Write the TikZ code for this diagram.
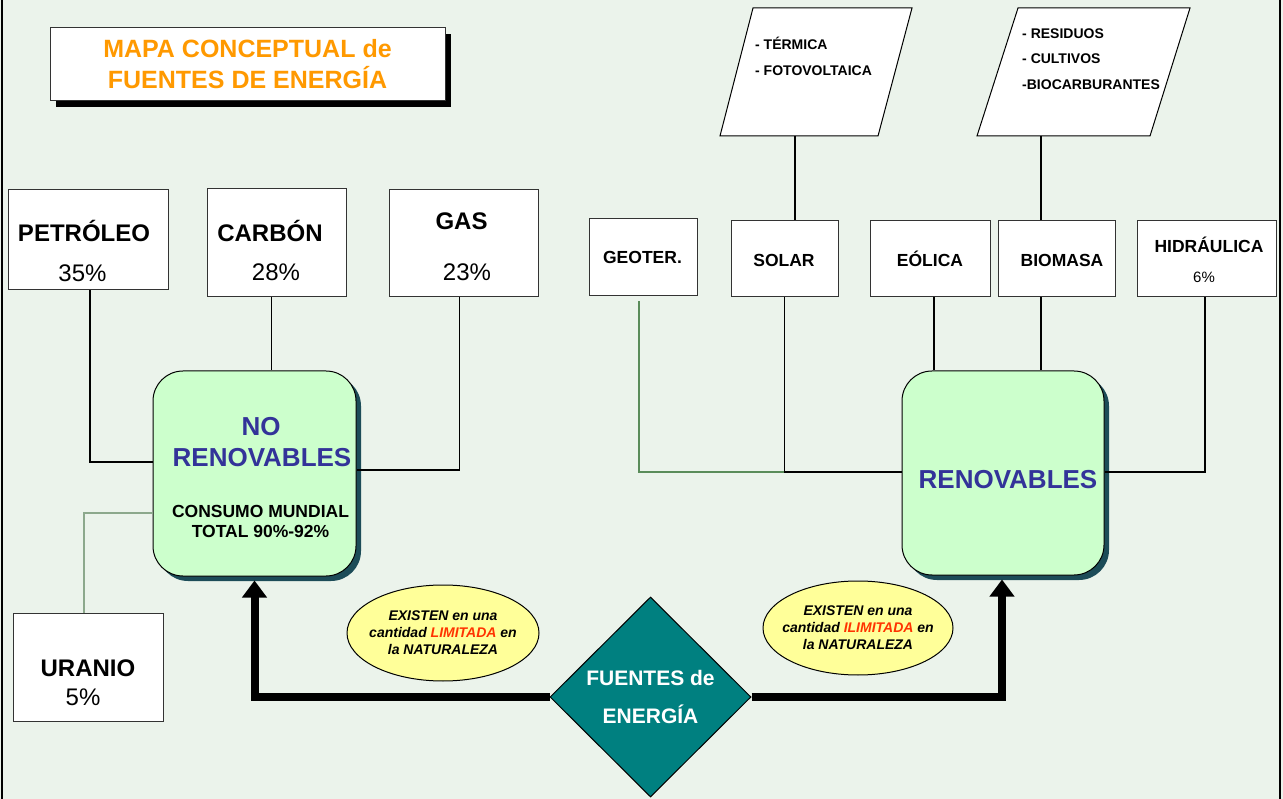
\documentclass[tikz,border=0pt]{standalone}
\usepackage{fontspec}
\setmainfont{Liberation Sans}
\usepackage{xcolor}
\usetikzlibrary{shapes.geometric,arrows.meta,shadows,positioning}

\definecolor{bgcol}{RGB}{235,243,235}
\definecolor{titleorange}{RGB}{255,153,0}
\definecolor{groupfill}{RGB}{204,255,204}
\definecolor{groupblue}{RGB}{51,51,153}
\definecolor{groupshadow}{RGB}{28,76,88}
\definecolor{diamondteal}{RGB}{0,128,128}
\definecolor{notefill}{RGB}{255,255,153}
\definecolor{notered}{RGB}{255,51,0}
\definecolor{paleline}{RGB}{140,168,140}
\definecolor{geoline}{RGB}{90,140,90}

\begin{document}
\begin{tikzpicture}[x=1pt,y=-1pt,
  srcbox/.style={draw=black!80, fill=white, line width=1pt, inner sep=0pt},
  bigname/.style={anchor=base, inner sep=0pt, font=\bfseries\fontsize{24}{28}\selectfont},
  bigpct/.style={anchor=base, inner sep=0pt, font=\fontsize{24}{28}\selectfont},
  smallname/.style={anchor=base, inner sep=0pt, font=\bfseries\fontsize{17.5}{20}\selectfont},
  partext/.style={anchor=base west, inner sep=0pt, font=\bfseries\fontsize{14}{16}\selectfont},
  groupbox/.style={draw=black, fill=groupfill, line width=1pt, rounded corners=30pt, inner sep=0pt,
    drop shadow={shadow xshift=5pt, shadow yshift=-5pt, fill=groupshadow, opacity=1}},
  grouptext/.style={anchor=base, inner sep=0pt, text=groupblue, font=\bfseries\fontsize{26}{30}\selectfont},
  note/.style={ellipse, draw=black, fill=notefill, line width=1pt, inner sep=0pt,
    minimum width=192pt, minimum height=96pt},
  notetext/.style={inner sep=0pt, align=center, font=\bfseries\itshape\fontsize{14}{17}\selectfont},
  link/.style={line width=1.2pt},
  bigarrow/.style={line width=8pt, line join=miter, -{Triangle[width=24pt,length=17pt]}}]
  \useasboundingbox (0,0) rectangle (1283,799);
  \fill[bgcol] (0,0) rectangle (1283,799);
  \draw[line width=2pt] (1.5,0) -- (1.5,799);
  \draw[line width=2pt] (1279.5,0) -- (1279.5,799);

  %Shape: Title
  \node[srcbox, minimum width=395pt, minimum height=73pt, align=center, text=titleorange,
    font=\bfseries\fontsize{25}{31}\selectfont,
    drop shadow={shadow xshift=6pt, shadow yshift=-6pt, fill=black, opacity=1}]
    (title) at (247.5,64.5) {MAPA CONCEPTUAL de\\FUENTES DE ENERGÍA};

  %Shape: Parallelograms
  \draw[fill=white, line width=1pt] (753,8) -- (912,8) -- (878,136) -- (720,136) -- cycle;
  \draw[fill=white, line width=1pt] (1018,8) -- (1190,8) -- (1150,136) -- (977,136) -- cycle;
  \coordinate (solarpar) at (795,136);
  \coordinate (biopar) at (1041,136);
  \node[partext] (termica) at (755,50) {- TÉRMICA};
  \node[partext] (fotovolt) at (755,76) {- FOTOVOLTAICA};
  \node[partext] (residuos) at (1022,39) {- RESIDUOS};
  \node[partext] (cultivos) at (1022,64) {- CULTIVOS};
  \node[partext] (biocarb) at (1022,90) {-BIOCARBURANTES};

  %Shape: Non renewable sources
  \node[srcbox, minimum width=160pt, minimum height=100pt] (petroleo) at (88,240) {};
  \node[srcbox, minimum width=139pt, minimum height=108pt] (carbon) at (276.5,243) {};
  \node[srcbox, minimum width=149pt, minimum height=107pt] (gas) at (463.5,243.5) {};
  \node[srcbox, minimum width=150pt, minimum height=108pt] (uranio) at (88,667) {};
  \node[bigname] (petroleo-n) at (84,242) {PETRÓLEO};
  \node[bigpct] (petroleo-p) at (82.5,282) {35\%};
  \node[bigname] (carbon-n) at (270,242) {CARBÓN};
  \node[bigpct] (carbon-p) at (276,281) {28\%};
  \node[bigname] (gas-n) at (461.5,230) {GAS};
  \node[bigpct] (gas-p) at (467,281) {23\%};
  \node[bigname] (uranio-n) at (88,676) {URANIO};
  \node[bigpct] (uranio-p) at (83,705) {5\%};

  %Shape: Renewable sources
  \node[srcbox, minimum width=108pt, minimum height=77pt] (geoter) at (643,257.5) {};
  \node[srcbox, minimum width=107pt, minimum height=76pt] (solar) at (784.5,259) {};
  \node[srcbox, minimum width=120pt, minimum height=76pt] (eolica) at (930,259) {};
  \node[srcbox, minimum width=117pt, minimum height=76pt] (biomasa) at (1056.5,259) {};
  \node[srcbox, minimum width=139pt, minimum height=76pt] (hidraulica) at (1206.5,259) {};
  \node[smallname] (geoter-n) at (642.5,264) {GEOTER.};
  \node[smallname] (solar-n) at (784,267) {SOLAR};
  \node[smallname] (eolica-n) at (930,267) {EÓLICA};
  \node[smallname] (biomasa-n) at (1062,267) {BIOMASA};
  \node[smallname] (hidraulica-n) at (1209,253) {HIDRÁULICA};
  \node[anchor=base, inner sep=0pt, font=\fontsize{15}{17}\selectfont] (hidraulica-p) at (1204,283) {6\%};

  %Shape: Groups
  \node[groupbox, minimum width=203pt, minimum height=205pt] (norenov) at (254.5,473.5) {};
  \node[groupbox, minimum width=202pt, minimum height=204pt] (renov) at (1003,473) {};
  \node[grouptext] (norenov-a) at (261,436) {NO};
  \node[grouptext] (norenov-b) at (262,467) {RENOVABLES};
  \node[anchor=base, inner sep=0pt, align=center, font=\bfseries\fontsize{17.5}{20}\selectfont]
    (consumo) at (260.5,537) {CONSUMO MUNDIAL\\TOTAL 90\%-92\%};
  \node[grouptext] (renov-a) at (1008,489) {RENOVABLES};

  %Straight Lines
  \draw[link] ([xshift=2pt]petroleo.south) |- ([yshift=11.5pt]norenov.west);
  \draw[link] ([xshift=-5pt]carbon.south) -- ([xshift=-5pt]carbon.south |- norenov.north);
  \draw[link] ([xshift=-4pt]gas.south) |- ([yshift=3.5pt]norenov.east);
  \draw[link, paleline] ([xshift=-4pt]uranio.north) |- ([yshift=-39.5pt]norenov.west);
  \draw[link] (solarpar) -- (solarpar |- solar.north);
  \draw[link] (biopar) -- (biopar |- biomasa.north);
  \draw[link, geoline] ([xshift=-4pt,yshift=-5pt]geoter.south) |- ([yshift=1pt]solar.south |- renov.west);
  \draw[link] (solar.south) |- ([yshift=1pt]renov.west);
  \draw[link] ([xshift=4pt]eolica.south) -- ([xshift=4pt]eolica.south |- renov.north);
  \draw[link] ([xshift=-15.5pt]biomasa.south) -- ([xshift=-15.5pt]biomasa.south |- renov.north);
  \draw[link] ([xshift=-1.5pt]hidraulica.south) |- ([yshift=1pt]renov.east);

  %Shape: Diamond
  \node[diamond, aspect=1, draw=black, fill=diamondteal, line width=1pt, inner sep=0pt,
    minimum width=201pt, minimum height=200pt, align=center, text=white,
    font=\bfseries\fontsize{21}{38}\selectfont] (fuentes) at (650.5,697) {FUENTES de\\ENERGÍA};

  %Thick arrows
  \draw[bigarrow] (fuentes.west) -| ([yshift=-4pt]norenov.south);
  \draw[bigarrow] (fuentes.east) -| ([xshift=-1pt,yshift=-4pt]renov.south);

  %Shape: Notes
  \node[note] (limitada) at (443,633) {};
  \node[notetext] (limitada-t) at (443,633)
    {EXISTEN en una\\cantidad \textcolor{notered}{LIMITADA} en\\la NATURALEZA};
  \node[note, minimum width=190pt, minimum height=94pt] (ilimitada) at (858,628) {};
  \node[notetext] (ilimitada-t) at (858,628)
    {EXISTEN en una\\cantidad \textcolor{notered}{ILIMITADA} en\\la NATURALEZA};
\end{tikzpicture}
\end{document}
